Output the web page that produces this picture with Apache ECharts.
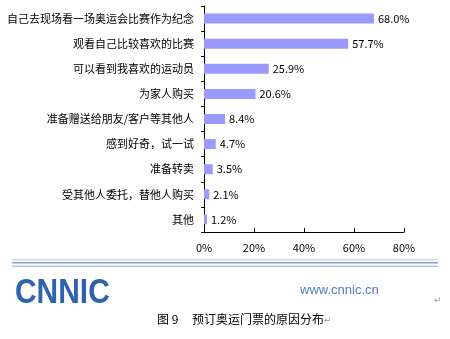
<!DOCTYPE html>
<html>
<head>
<meta charset="utf-8">
<script src="https://cdn.jsdelivr.net/npm/echarts@6/dist/echarts.min.js"></script>
<style>
html,body{margin:0;padding:0;background:#fff;}
#chart{width:450px;height:339px;}
</style>
</head>
<body>
<div id="chart"></div>
<script>
var categories = ['自己去现场看一场奥运会比赛作为纪念','观看自己比较喜欢的比赛','可以看到我喜欢的运动员','为家人购买','准备赠送给朋友/客户等其他人','感到好奇，试一试','准备转卖','受其他人委托，替他人购买','其他'];
var values = [68.0, 57.7, 25.9, 20.6, 8.4, 4.7, 3.5, 2.1, 1.2];
var xTicks = {min: 0, max: 80, interval: 20};
var figLabel = '图 9';
var caption = '预订奥运门票的原因分布';
var siteText = 'www.cnnic.cn';
var logoText = 'CNNIC';

var FONT = '"Noto Sans CJK SC", sans-serif';
var chart = echarts.init(document.getElementById('chart'), null, {renderer: 'canvas'});
chart.setOption({
  animation: false,
  backgroundColor: '#ffffff',
  grid: {left: 204, right: 46, top: 6, height: 226, containLabel: false},
  xAxis: {
    type: 'value', min: xTicks.min, max: xTicks.max, interval: xTicks.interval,
    axisLine: {show: true, lineStyle: {color: '#000', width: 1}},
    axisTick: {show: true, inside: true, length: 4, lineStyle: {color: '#000'}},
    splitLine: {show: false},
    axisLabel: {formatter: '{value}%', color: '#000', fontSize: 11, fontFamily: FONT, margin: 10}
  },
  yAxis: {
    type: 'category', data: categories, inverse: true,
    axisLine: {show: true, lineStyle: {color: '#000', width: 1}},
    axisTick: {show: true, length: 3, lineStyle: {color: '#000'}},
    axisLabel: {color: '#000', fontSize: 11, fontFamily: FONT, margin: 10}
  },
  series: [{
    type: 'bar', data: values, barWidth: 10,
    itemStyle: {color: '#9999ff'},
    label: {show: true, position: 'right', distance: 4, color: '#000', fontSize: 11, fontFamily: FONT,
      formatter: function(p){ return p.value.toFixed(1) + '%'; }}
  }],
  graphic: [
    {type: 'rect', shape: {x: 12, y: 259, width: 426, height: 1.5}, style: {fill: '#c9d8ec'}},
    {type: 'rect', shape: {x: 12, y: 262, width: 426, height: 1.5}, style: {fill: '#7f9fcc'}},
    {type: 'rect', shape: {x: 12, y: 265.5, width: 426, height: 1.5}, style: {fill: '#b4c8e2'}},
    {type: 'text', x: 15, y: 275, scaleX: 0.88, scaleY: 1.05, style: {text: logoText, fill: '#2f63b0', font: 'bold 34px "Liberation Sans", Arial, sans-serif'}},
    {type: 'text', left: 300, top: 284, style: {text: siteText, fill: '#4a7dc2', font: '13px "Liberation Sans", Arial, sans-serif'}},
    {type: 'text', left: 434, top: 296, style: {text: '↵', fill: '#999', font: '9px "DejaVu Sans", sans-serif'}},
    {type: 'text', left: 157, top: 313, style: {text: figLabel, fill: '#000', font: '12px "Noto Sans CJK SC", sans-serif'}},
    {type: 'text', left: 192, top: 313, style: {text: caption, fill: '#000', font: '12px "Noto Sans CJK SC", sans-serif'}},
    {type: 'text', left: 324, top: 316, style: {text: '↵', fill: '#999', font: '9px "DejaVu Sans", sans-serif'}}
  ]
});
</script>
</body>
</html>
